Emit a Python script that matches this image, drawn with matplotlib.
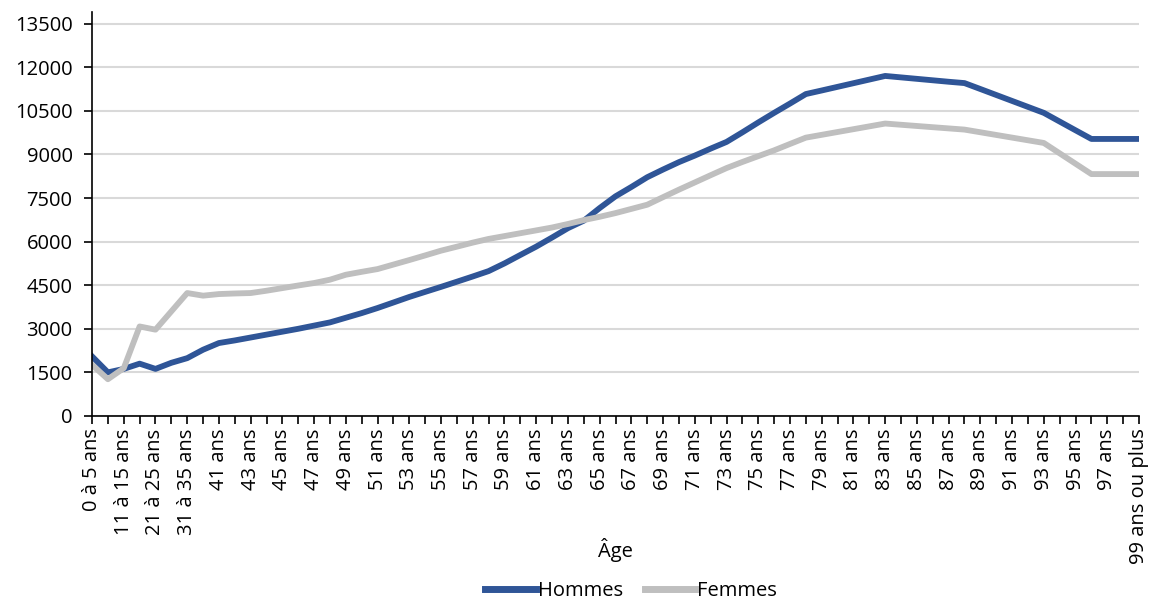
import numpy as np
import matplotlib
matplotlib.use("Agg")
import matplotlib.pyplot as plt

plt.rcParams['font.family'] = ['Open Sans', 'DejaVu Sans']

# age categories
ages = (["0 à 5 ans", "6 à 10 ans", "11 à 15 ans", "16 à 20 ans",
         "21 à 25 ans", "26 à 30 ans", "31 à 35 ans", "36 à 40 ans"]
        + [f"{a} ans" for a in range(41, 99)]
        + ["99 ans ou plus"])

hommes = [2050, 1500, 1620, 1800, 1620, 1830, 1990, 2280, 2510, 2600,
          2700, 2800, 2900, 3000, 3110, 3220, 3380, 3540, 3715, 3905,
          4096, 4270, 4442, 4620, 4800, 4985, 5250, 5540, 5827, 6140,
          6462, 6720, 7154, 7558, 7880, 8215, 8481, 8735, 8960, 9200,
          9430, 9760, 10100, 10430, 10750, 11077, 11200, 11325, 11450, 11575,
          11700, 11650, 11600, 11550, 11500, 11454, 11250, 11045, 10840, 10635,
          10430, 10130, 9830, 9532, 9532, 9532, 9532]

femmes = [1760, 1265, 1645, 3080, 2970, 3600, 4230, 4140, 4195, 4215,
          4230, 4310, 4400, 4490, 4575, 4690, 4860, 4960, 5055, 5210,
          5365, 5525, 5688, 5825, 5965, 6092, 6190, 6288, 6386, 6485,
          6606, 6740, 6854, 6981, 7125, 7269, 7530, 7788, 8036, 8285,
          8530, 8740, 8940, 9140, 9360, 9577, 9674, 9771, 9868, 9965,
          10062, 10020, 9978, 9936, 9895, 9854, 9762, 9670, 9578, 9486,
          9394, 9037, 8680, 8323, 8323, 8323, 8323]

yticks = list(range(0, 13501, 1500))

fs = 14.5

fig = plt.figure(figsize=(11.52, 6), dpi=100)
ax = fig.add_axes([0.0799, 0.3067, 0.9088, 0.6733])

x = np.arange(len(ages))
ax.plot(x, hommes, color="#2F5597", lw=4.2, label="Hommes")
ax.plot(x, femmes, color="#BFBFBF", lw=4.2, label="Femmes")

ax.set_xlim(0, len(ages) - 1)
ax.set_ylim(0, 13900)
ax.set_yticks(yticks)
ax.set_yticklabels([str(v) for v in yticks], fontsize=fs)
ax.yaxis.grid(True, color="#D9D9D9", lw=1.5)
ax.set_axisbelow(True)

ax.set_xticks(x)
ax.set_xticklabels([lab if i % 2 == 0 else "" for i, lab in enumerate(ages)],
                   rotation=90, fontsize=fs)
ax.tick_params(axis="both", direction="out", length=6, width=1.2, color="black")
ax.tick_params(axis="y", pad=8)
ax.tick_params(axis="x", pad=3)

for s in ["top", "right"]:
    ax.spines[s].set_visible(False)
for s in ["left", "bottom"]:
    ax.spines[s].set_linewidth(1.2)
    ax.spines[s].set_color("black")

ax.set_xlabel("Âge", fontsize=fs, va="center")
ax.xaxis.set_label_coords(0.5, -0.332)

leg = fig.legend(loc="center", bbox_to_anchor=(0.548, 0.015), ncol=2, frameon=False,
                 fontsize=fs, handlelength=2.5, handletextpad=0.1, columnspacing=1.1)
for h in leg.get_lines():
    h.set_linewidth(5)

fig.savefig("out.png", dpi=100)
